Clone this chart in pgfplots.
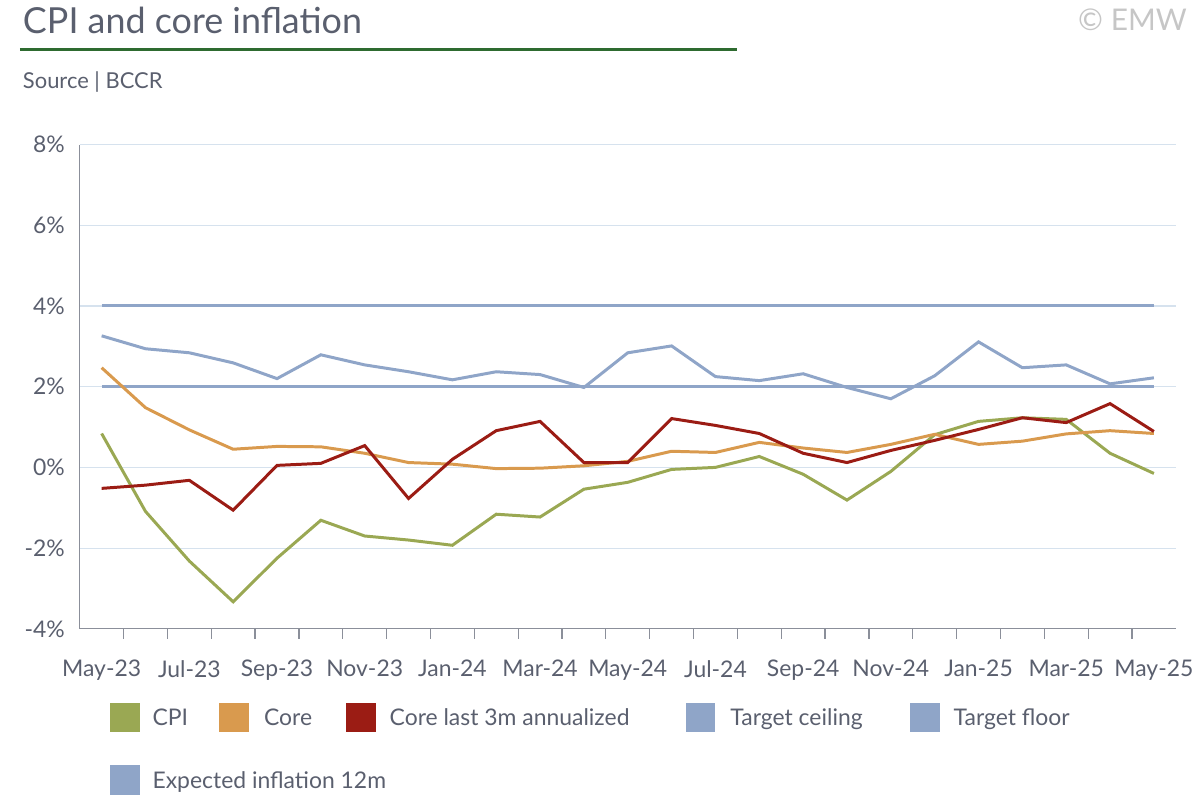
\documentclass[border=0pt]{standalone}
\usepackage{pgfplots}
\pgfplotsset{compat=1.18}
\usepackage{fontspec}
\setmainfont{Lato}
\definecolor{txt}{HTML}{5A5F6E}
\definecolor{cpi}{HTML}{9AA853}
\definecolor{core}{HTML}{D99A4E}
\definecolor{cthree}{HTML}{9B1C14}
\definecolor{tgt}{HTML}{8FA5C8}
\definecolor{grn}{HTML}{2E6B30}
\definecolor{gridc}{HTML}{D6E2EE}
\begin{document}
\begin{tikzpicture}[x=1pt,y=1pt]
\path (0,0) rectangle (600,400);
\node[anchor=west,text=txt,font=\fontsize{18}{21}\selectfont] at (8,390) {CPI and core inflation};
\draw[grn,line width=1.5pt] (10,375) -- (370,375);
\node[anchor=west,text=txt,font=\fontsize{11}{13}\selectfont] at (8,359) {Source | BCCR};
\node[anchor=east,text=gray!45,font=\fontsize{15}{17}\selectfont] at (599,390) {© EMW};
\begin{axis}[at={(40pt,84.5pt)},anchor=south west,scale only axis,width=550pt,height=243pt,
 xmin=-0.5,xmax=24.5,ymin=-4,ymax=8,
 axis x line*=bottom, axis y line*=left,
 axis line style={txt!70,line width=0.6pt},
 xtick={0,2,...,24},
 xticklabels={May-23,Jul-23,Sep-23,Nov-23,Jan-24,Mar-24,May-24,Jul-24,Sep-24,Nov-24,Jan-25,Mar-25,May-25},
 major x tick style={draw=none},
 minor xtick={0.5,1.5,...,23.5},
 minor tick length=5pt, minor x tick style={txt!70,line width=0.6pt},
 xtick align=outside,
 xticklabel style={yshift=-8pt},
 ytick={-4,-2,0,2,4,6,8},
 yticklabels={-4\%,-2\%,0\%,2\%,4\%,6\%,8\%},
 major y tick style={draw=none},
 ymajorgrids, grid style={gridc,line width=0.6pt},
 ticklabel style={text=txt,font=\fontsize{11.5}{13}\selectfont},
 yticklabel style={xshift=-4pt},
 clip=false]
\addplot[tgt,line width=1.5pt] coordinates {(0,4) (24,4)};
\addplot[tgt,line width=1.5pt] coordinates {(0,2) (24,2)};
\addplot[tgt,line width=1.5pt] coordinates {(0,3.26)(1,2.94)(2,2.84)(3,2.59)(4,2.2)(5,2.79)(6,2.54)(7,2.37)(8,2.17)(9,2.37)(10,2.3)(11,1.98)(12,2.84)(13,3.01)(14,2.25)(15,2.15)(16,2.32)(17,1.98)(18,1.7)(19,2.27)(20,3.11)(21,2.47)(22,2.54)(23,2.07)(24,2.22)};
\addplot[cpi,line width=1.5pt] coordinates {(0,0.84)(1,-1.09)(2,-2.32)(3,-3.33)(4,-2.25)(5,-1.31)(6,-1.70)(7,-1.80)(8,-1.93)(9,-1.16)(10,-1.23)(11,-0.54)(12,-0.37)(13,-0.05)(14,0.0)(15,0.27)(16,-0.17)(17,-0.81)(18,-0.1)(19,0.81)(20,1.14)(21,1.23)(22,1.19)(23,0.35)(24,-0.15)};
\addplot[core,line width=1.5pt] coordinates {(0,2.47)(1,1.48)(2,0.93)(3,0.45)(4,0.52)(5,0.51)(6,0.35)(7,0.12)(8,0.08)(9,-0.03)(10,-0.02)(11,0.04)(12,0.15)(13,0.40)(14,0.37)(15,0.62)(16,0.48)(17,0.37)(18,0.57)(19,0.82)(20,0.57)(21,0.65)(22,0.83)(23,0.91)(24,0.84)};
\addplot[cthree,line width=1.5pt] coordinates {(0,-0.52)(1,-0.44)(2,-0.32)(3,-1.06)(4,0.05)(5,0.1)(6,0.54)(7,-0.77)(8,0.2)(9,0.91)(10,1.14)(11,0.12)(12,0.12)(13,1.21)(14,1.04)(15,0.84)(16,0.35)(17,0.12)(18,0.42)(19,0.67)(20,0.94)(21,1.23)(22,1.11)(23,1.58)(24,0.89)};
\end{axis}
\tikzset{lt/.style={anchor=base west,text=txt,font=\fontsize{11.5}{13}\selectfont}}
\fill[cpi] (55,32.5) rectangle (70,47.5); \node[lt] at (73,36) {CPI};
\fill[core] (110,32.5) rectangle (125,47.5); \node[lt] at (129,36) {Core};
\fill[cthree] (173.5,32.5) rectangle (188.5,47.5); \node[lt] at (192,36) {Core last 3m annualized};
\fill[tgt] (344,32.5) rectangle (359,47.5); \node[lt] at (363,36) {Target ceiling};
\fill[tgt] (456.5,32.5) rectangle (471.5,47.5); \node[lt] at (475,36) {Target floor};
\fill[tgt] (55,1) rectangle (70,16); \node[lt] at (73,4.5) {Expected inflation 12m};
\end{tikzpicture}
\end{document}
